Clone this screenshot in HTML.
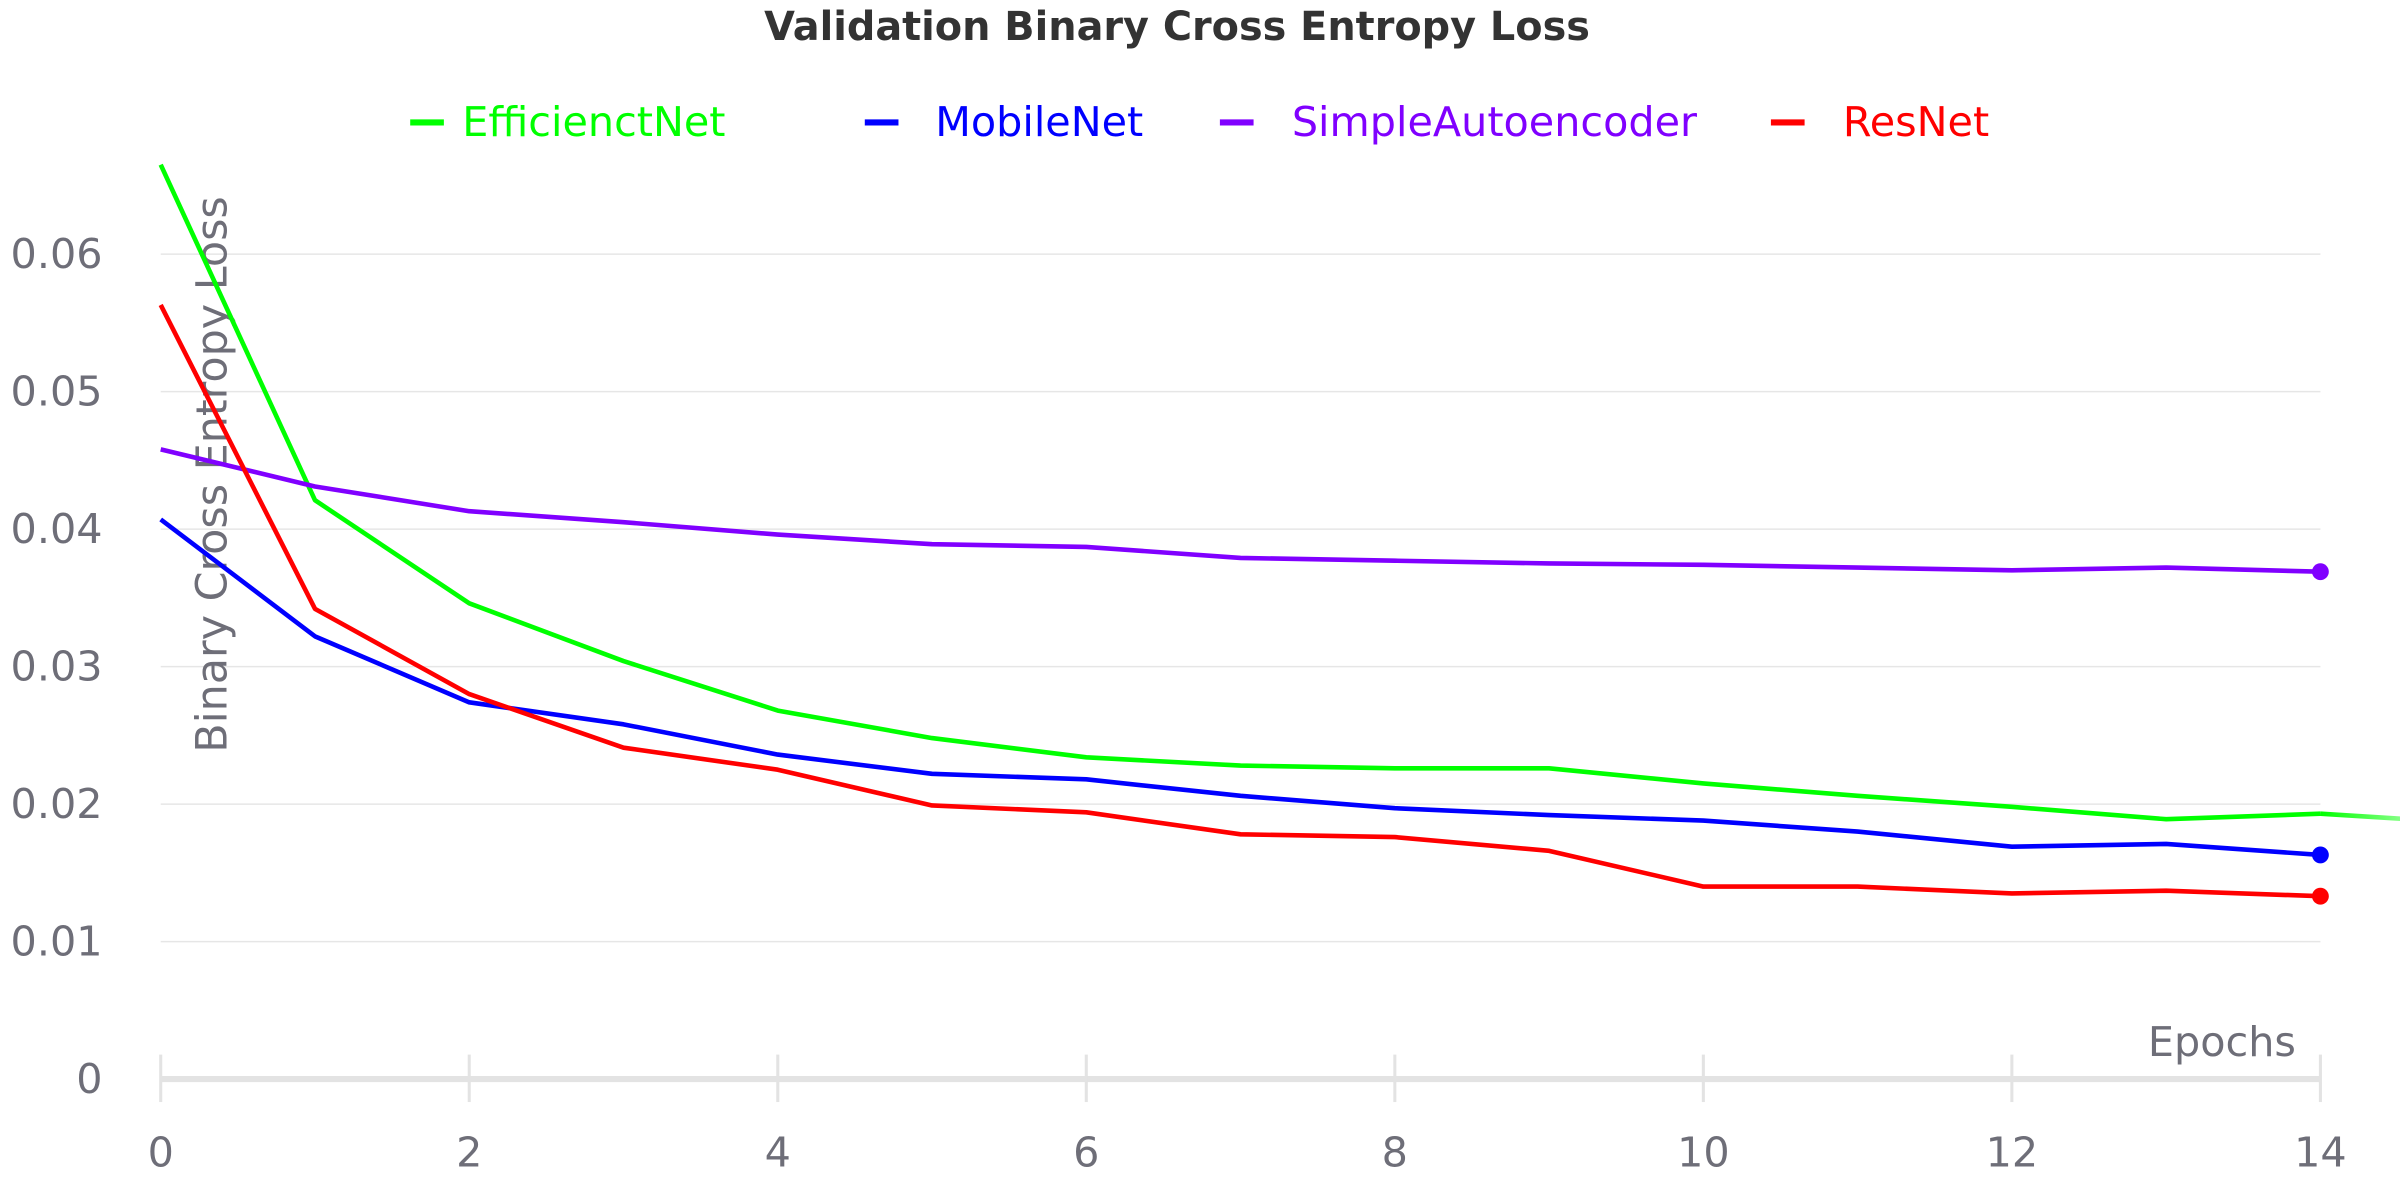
<!DOCTYPE html>
<html><head><meta charset="utf-8"><style>
html,body{margin:0;padding:0;background:#fff;}
svg{display:block;font-family:"DejaVu Sans","Liberation Sans",sans-serif;}
</style></head><body>
<svg id="chart" width="2400" height="1200" viewBox="0 0 1568 784" xmlns="http://www.w3.org/2000/svg">
<defs>
<linearGradient id="fade" x1="0" x2="1" y1="0" y2="0">
<stop offset="0" stop-color="#00ff00" stop-opacity="1"/><stop offset="1" stop-color="#00ff00" stop-opacity="0"/>
</linearGradient>
</defs>
<text x="769" y="26" text-anchor="middle" font-weight="bold" font-size="26" fill="#333">Validation Binary Cross Entropy Loss</text>
<g id="legend"></g>
<g id="grid"></g>
<g id="axes"></g>
<text transform="translate(148,310) rotate(-90)" text-anchor="middle" font-size="28" fill="#6e6e78">Binary Cross Entropy Loss</text>
<text x="1500" y="690" text-anchor="end" font-size="27" fill="#6e6e78">Epochs</text>
<g id="series"></g>
</svg>
<script>
const epochs = [0,1,2,3,4,5,6,7,8,9,10,11,12,13,14];
const yTicks = [0,0.01,0.02,0.03,0.04,0.05,0.06];
const yTickLabels = ["0","0.01","0.02","0.03","0.04","0.05","0.06"];
const xTicks = [0,2,4,6,8,10,12,14];
const seriesNames = ["EfficienctNet","MobileNet","SimpleAutoencoder","ResNet"];
const efficientNet = [0.0665,0.0421,0.0346,0.0304,0.0268,0.0248,0.0234,0.0228,0.0226,0.0226,0.0215,0.0206,0.0198,0.0189,0.0193];
const efficientNetTail = 0.0186;
const mobileNet = [0.0407,0.0322,0.0274,0.0258,0.0236,0.0222,0.0218,0.0206,0.0197,0.0192,0.0188,0.0180,0.0169,0.0171,0.0163];
const simpleAutoencoder = [0.0458,0.0431,0.0413,0.0405,0.0396,0.0389,0.0387,0.0379,0.0377,0.0375,0.0374,0.0372,0.0370,0.0372,0.0369];
const resNet = [0.0563,0.0342,0.0280,0.0241,0.0225,0.0199,0.0194,0.0178,0.0176,0.0166,0.0140,0.0140,0.0135,0.0137,0.0133];

const NS="http://www.w3.org/2000/svg";
const X0=105,X1=1516,Y0=705,Y6=166;
const xs=v=>X0+(X1-X0)*v/14;
const ys=v=>Y0-(Y0-Y6)*v/0.06;
function mk(tag,attrs,parent){const e=document.createElementNS(NS,tag);for(const k in attrs)e.setAttribute(k,attrs[k]);parent.appendChild(e);return e;}
const grid=document.getElementById('grid'),axes=document.getElementById('axes'),ser=document.getElementById('series'),leg=document.getElementById('legend');
yTicks.forEach((t,i)=>{
  if(i>0){const l=mk('line',{x1:X0,x2:X1,y1:ys(t),y2:ys(t),stroke:'#e6e6e6','stroke-width':1},grid);
  
  }
  const tx=mk('text',{x:67,y:ys(t)+9,'text-anchor':'end','font-size':27,fill:'#6e6e78'},axes);
  tx.textContent=yTickLabels[i];
  
  
});
const al=mk('line',{x1:X0,x2:X1,y1:Y0,y2:Y0,stroke:'#e3e3e3','stroke-width':4},axes);


xTicks.forEach(t=>{
  const l=mk('line',{x1:xs(t),x2:xs(t),y1:689,y2:720,stroke:'#e3e3e3','stroke-width':2},axes);
  
  
  const tx=mk('text',{x:xs(t),y:762,'text-anchor':'middle','font-size':27,fill:'#6e6e78'},axes);
  tx.textContent=String(t);
  
  
});
const colors=['#00ff00','#0000ff','#8000ff','#ff0000'];
const data=[efficientNet,mobileNet,simpleAutoencoder,resNet];
const legX=[268,565,797,1157],legT=[302,611,844,1204];
seriesNames.forEach((n,i)=>{
  const g=mk('g',{},leg);
  
  
  mk('line',{x1:legX[i],x2:legX[i]+22,y1:80,y2:80,stroke:colors[i],'stroke-width':4},g);
  const tx=mk('text',{x:legT[i],y:89,'font-size':27,fill:colors[i]},g);
  tx.textContent=n;
});
const tail=mk('line',{x1:xs(14),y1:ys(efficientNet[14]),x2:xs(15),y2:ys(efficientNetTail),stroke:'url(#fade)','stroke-width':3},ser);


data.forEach((d,i)=>{
  const pts=d.map((v,j)=>xs(epochs[j])+','+ys(v)).join(' ');
  const pl=mk('polyline',{points:pts,fill:'none',stroke:colors[i],'stroke-width':3,'stroke-linejoin':'round'},ser);
  
  
  if(i>0){
    const c=mk('circle',{cx:xs(epochs[14]),cy:ys(d[14]),r:5.5,fill:colors[i]},ser);
    
    
  }
});
</script>
</body></html>
